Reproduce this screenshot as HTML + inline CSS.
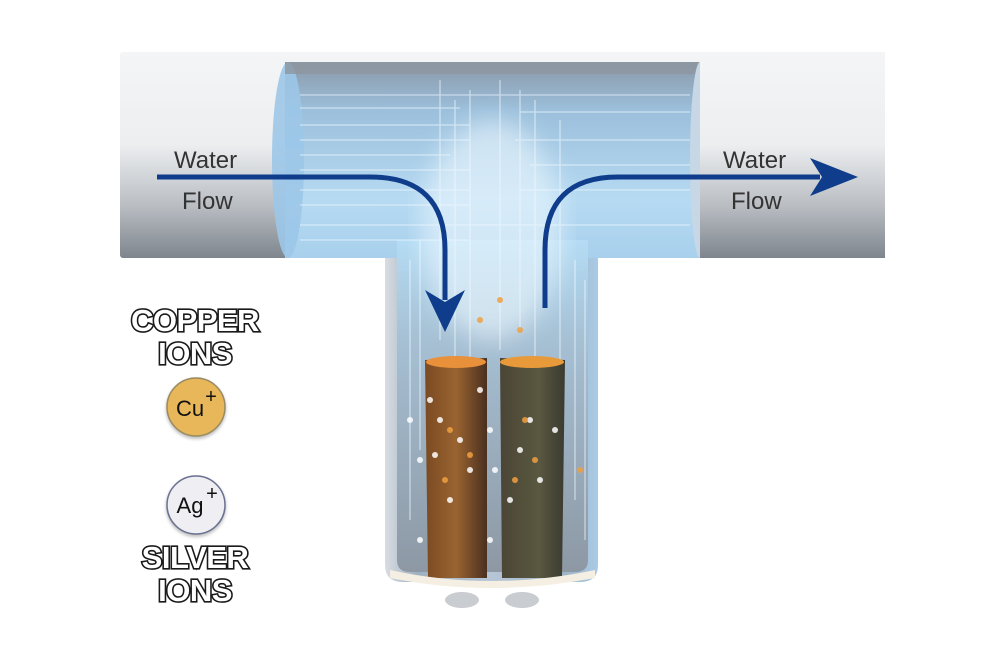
<!DOCTYPE html>
<html><head><style>
html,body{margin:0;padding:0;background:#fff;}
svg{display:block;}
.lbl{font-family:"Liberation Sans",sans-serif;font-weight:bold;font-size:31px;fill:#fff;stroke:#1a1a1a;stroke-width:3.2px;paint-order:stroke;text-anchor:middle;letter-spacing:-0.5px;}
.wf{font-family:"Liberation Sans",sans-serif;font-size:24px;fill:#333;}
</style></head><body>
<svg width="1000" height="660" viewBox="0 0 1000 660" xmlns="http://www.w3.org/2000/svg">
<defs>
<linearGradient id="pipe" x1="0" y1="0" x2="0" y2="1">
<stop offset="0" stop-color="#f4f5f6"/><stop offset="0.45" stop-color="#eceef0"/><stop offset="0.75" stop-color="#b9bdc2"/><stop offset="1" stop-color="#7e858d"/>
</linearGradient>
<linearGradient id="water" x1="0" y1="0" x2="0" y2="1">
<stop offset="0" stop-color="#8a98a8"/><stop offset="0.25" stop-color="#9cc0dc"/><stop offset="0.7" stop-color="#b6daf2"/><stop offset="1" stop-color="#a8d0ec"/>
</linearGradient>
<linearGradient id="vpipe" x1="0" y1="0" x2="1" y2="0">
<stop offset="0" stop-color="#d8dde2"/><stop offset="0.15" stop-color="#9fb0c0"/><stop offset="0.5" stop-color="#b7c6d6"/><stop offset="0.85" stop-color="#9fb5c8"/><stop offset="1" stop-color="#a9cbe6"/>
</linearGradient>
<linearGradient id="vwater" x1="0" y1="0" x2="0" y2="1">
<stop offset="0" stop-color="#b4dcf4"/><stop offset="0.3" stop-color="#a6c0d4"/><stop offset="1" stop-color="#8d98a4"/>
</linearGradient>
<linearGradient id="cu" x1="0" y1="0" x2="1" y2="0">
<stop offset="0" stop-color="#7a4a22"/><stop offset="0.5" stop-color="#9a6430"/><stop offset="1" stop-color="#4a3020"/>
</linearGradient>
<linearGradient id="ag" x1="0" y1="0" x2="1" y2="0">
<stop offset="0" stop-color="#4a4535"/><stop offset="0.6" stop-color="#5a5840"/><stop offset="1" stop-color="#3a3a30"/>
</linearGradient>
<filter id="sh"><feGaussianBlur stdDeviation="1.5"/></filter>
<filter id="bl"><feGaussianBlur stdDeviation="12"/></filter>
</defs>
<rect x="120" y="52" width="765" height="206" fill="url(#pipe)" rx="3"/>
<path d="M285 62 L700 62 L700 258 L285 258 Z" fill="url(#water)"/>
<ellipse cx="288" cy="160" rx="16" ry="98" fill="#9cc6e8" opacity="0.9"/>
<rect x="285" y="62" width="415" height="12" fill="#8d96a0" opacity="0.8"/>
<ellipse cx="700" cy="160" rx="10" ry="98" fill="#c7d7e6"/>
<rect x="700" y="52" width="185" height="206" fill="url(#pipe)"/>
<path d="M385 258 L598 258 L598 565 Q598 582 580 582 L403 582 Q385 582 385 565 Z" fill="url(#vpipe)"/>
<path d="M397 240 L588 240 L588 560 Q588 572 575 572 L410 572 Q397 572 397 560 Z" fill="url(#vwater)"/>
<ellipse cx="492" cy="230" rx="70" ry="110" fill="#f2faff" opacity="0.55" filter="url(#bl)"/>
<g stroke="#eef8ff" stroke-width="1.3" opacity="0.6" fill="none">
<path d="M300 95 H690 M300 108 H460 M520 112 H690 M300 125 H470 M300 140 H470 M515 140 H690 M300 155 H450 M300 170 H470 M530 165 H690 M300 190 H470 M520 190 H690 M300 205 H470 M300 225 H690 M300 240 H470"/>
<path d="M440 80 V340 M455 100 V380 M470 90 V360 M500 80 V350 M520 90 V330 M535 100 V360 M560 120 V400 M420 240 V450 M410 260 V520 M575 260 V500 M585 280 V540"/>
</g>
<path d="M425 360 L487 358 L487 578 L428 578 Z" fill="url(#cu)"/>
<path d="M500 358 L565 360 L562 578 L502 578 Z" fill="url(#ag)"/>
<ellipse cx="456" cy="362" rx="30" ry="6" fill="#e8903a"/>
<ellipse cx="532" cy="362" rx="32" ry="6" fill="#e89a3a"/>
<g fill="#fff" opacity="0.85">
<circle cx="440" cy="420" r="3"/><circle cx="460" cy="440" r="3"/><circle cx="420" cy="460" r="3"/><circle cx="470" cy="470" r="3"/><circle cx="450" cy="500" r="3"/><circle cx="490" cy="430" r="3"/><circle cx="520" cy="450" r="3"/><circle cx="540" cy="480" r="3"/><circle cx="510" cy="500" r="3"/><circle cx="420" cy="540" r="3"/><circle cx="490" cy="540" r="3"/><circle cx="555" cy="430" r="3"/><circle cx="430" cy="400" r="3"/><circle cx="480" cy="390" r="3"/><circle cx="410" cy="420" r="3"/><circle cx="435" cy="455" r="3"/><circle cx="495" cy="470" r="3"/><circle cx="530" cy="420" r="3"/>
</g>
<g fill="#f0a040" opacity="0.85">
<circle cx="450" cy="430" r="3"/><circle cx="470" cy="455" r="3"/><circle cx="445" cy="480" r="3"/><circle cx="525" cy="420" r="3"/><circle cx="535" cy="460" r="3"/><circle cx="515" cy="480" r="3"/><circle cx="480" cy="320" r="3"/><circle cx="500" cy="300" r="3"/><circle cx="520" cy="330" r="3"/><circle cx="580" cy="470" r="3"/>
</g>
<path d="M390 570 Q490 592 595 570 L595 578 Q490 598 390 578 Z" fill="#f4efe2"/>
<ellipse cx="462" cy="600" rx="17" ry="8" fill="#c9ccd0"/>
<ellipse cx="522" cy="600" rx="17" ry="8" fill="#c9ccd0"/>
<g fill="none" stroke="#0f3d8c" stroke-width="5">
<path d="M157 177 H370 Q445 177 445 250 V300"/>
<path d="M545 308 V250 Q545 177 618 177 H820"/>
</g>
<path d="M425 290 L445 302 L465 290 L445 332 Z" fill="#0f3d8c"/>
<path d="M810 158 L822 177 L810 196 L858 177 Z" fill="#0f3d8c"/>
<text class="wf" x="174" y="168">Water</text>
<text class="wf" x="182" y="209">Flow</text>
<text class="wf" x="723" y="168">Water</text>
<text class="wf" x="731" y="209">Flow</text>
<text class="lbl" x="195" y="331">COPPER</text>
<text class="lbl" x="195" y="364">IONS</text>
<circle cx="196" cy="409" r="30" fill="#000" opacity="0.25" filter="url(#sh)"/>
<circle cx="196" cy="407" r="29" fill="#e8b75a" stroke="#9a8a60" stroke-width="1.5"/>
<text x="190" y="416" font-family="Liberation Sans,sans-serif" font-size="22" fill="#111" text-anchor="middle">Cu</text>
<text x="211" y="403" font-family="Liberation Sans,sans-serif" font-size="20" fill="#111" text-anchor="middle">+</text>
<circle cx="196" cy="507" r="30" fill="#000" opacity="0.25" filter="url(#sh)"/>
<circle cx="196" cy="505" r="29" fill="#eeeef3" stroke="#6a7090" stroke-width="1.5"/>
<text x="190" y="513" font-family="Liberation Sans,sans-serif" font-size="22" fill="#111" text-anchor="middle">Ag</text>
<text x="212" y="500" font-family="Liberation Sans,sans-serif" font-size="20" fill="#111" text-anchor="middle">+</text>
<text class="lbl" x="195" y="568">SILVER</text>
<text class="lbl" x="195" y="601">IONS</text>
</svg>
</body></html>
